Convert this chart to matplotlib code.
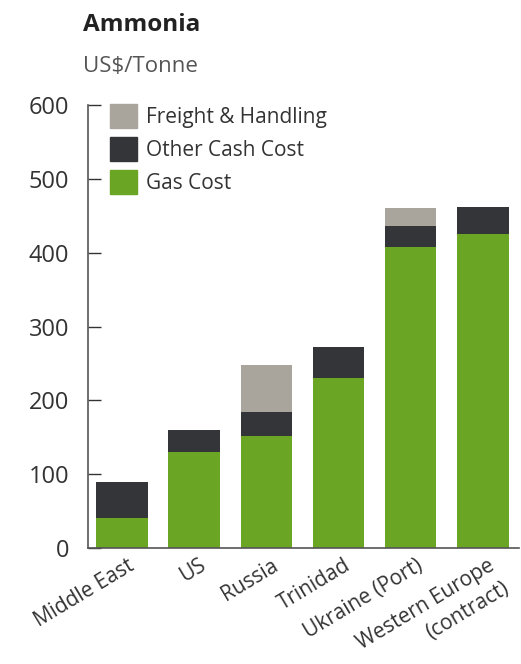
import matplotlib
matplotlib.use("Agg")
import matplotlib.pyplot as plt
import matplotlib.transforms as mtransforms
import numpy as np
from matplotlib.patches import Patch

plt.rcParams['font.family'] = ['Open Sans', 'DejaVu Sans']

categories = ["Middle East", "US", "Russia", "Trinidad", "Ukraine (Port)", "Western Europe\n(contract)"]
gas_cost = [40, 130, 152, 230, 408, 425]
other_cash_cost = [50, 30, 32, 42, 28, 37]
freight_handling = [0, 0, 64, 0, 24, 0]
yticks = [0, 100, 200, 300, 400, 500, 600]

c_gas = "#6aa523"
c_other = "#343539"
c_freight = "#aaa59c"

fig = plt.figure(figsize=(5.21, 6.64), dpi=100)
ax = fig.add_axes([88/521, 1-548/664, (519-88)/521, (548-105)/664])

x = np.arange(len(categories))
w = 0.71
gas = np.array(gas_cost)
oth = np.array(other_cash_cost)
fr = np.array(freight_handling)
ax.bar(x, gas, w, color=c_gas, linewidth=0)
ax.bar(x, oth, w, bottom=gas, color=c_other, linewidth=0)
ax.bar(x, fr, w, bottom=gas + oth, color=c_freight, linewidth=0)

ax.set_xlim(-0.47, 5.5)
ax.set_ylim(0, 600)
ax.set_yticks(yticks)
ax.tick_params(axis='y', direction='in', length=9, width=1, labelsize=17, colors="#333333", pad=13.5)
ax.tick_params(axis='x', length=0)
ax.set_xticks(x)
ax.set_xticklabels([])

# category labels: each line drawn as its own rotated text
rot = 31
fs = 15
pad_pt = 5.0
dx_pt = 3.6
line_pt = 0.95 * 1.362 * fs
for xi, cat in zip(x, categories):
    for k, line in enumerate(cat.split("\n")):
        ox = dx_pt + k * line_pt * np.sin(np.radians(rot))
        oy = -pad_pt - k * line_pt * np.cos(np.radians(rot))
        ax.annotate(line, xy=(xi, 0), xycoords=('data', 'axes fraction'),
                    xytext=(ox, oy), textcoords='offset points',
                    rotation=rot, rotation_mode='anchor', ha='right', va='top',
                    fontsize=fs, color="#333333", annotation_clip=False)

for s in ['top', 'right']:
    ax.spines[s].set_visible(False)
for s in ['left', 'bottom']:
    ax.spines[s].set_color("#555555")
    ax.spines[s].set_linewidth(1.2)

handles = [Patch(color=c_freight), Patch(color=c_other), Patch(color=c_gas)]
labels = ["Freight & Handling", "Other Cash Cost", "Gas Cost"]
leg = ax.legend(handles, labels, loc='upper left', bbox_to_anchor=(22/431, 1+1/443), frameon=False,
                handlelength=1.3, handleheight=1.4, handletextpad=0.45, labelspacing=0.42,
                fontsize=15, borderaxespad=0, borderpad=0)
for t in leg.get_texts():
    t.set_color("#333333")

fig.text(83/521, 1-25/664, "Ammonia", fontsize=17.5, fontweight='bold', color="#222222", va='center')
fig.text(83/521, 1-66/664, "US$/Tonne", fontsize=16, color="#555555", va='center')

fig.savefig("out.png", dpi=100)
